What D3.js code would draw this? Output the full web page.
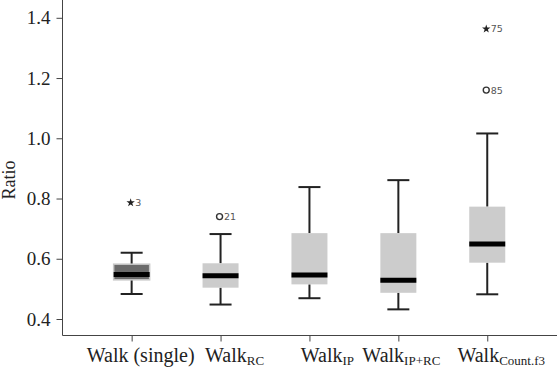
<!DOCTYPE html>
<html>
<head>
<meta charset="utf-8">
<script src="https://cdn.jsdelivr.net/npm/d3@7"></script>
<style>
  body { margin: 0; background: #fff; }
  svg { display: block; }
  .serif, .serif text { font-family: 'Liberation Serif', 'Times New Roman', 'DejaVu Serif', serif; }
  .sans { font-family: 'DejaVu Sans', sans-serif; }
</style>
</head>
<body>
<svg id="chart"></svg>
<script>
// groups and their labels (main text + subscript)
let categories = ['single', 'RC', 'IP', 'IP+RC', 'Count.f3']
let labelMain = ['Walk (single)', 'Walk', 'Walk', 'Walk', 'Walk']
let labelSub = ['', 'RC', 'IP', 'IP+RC', 'Count.f3']

// box statistics
let whiskerLow = [0.483, 0.448, 0.469, 0.432, 0.482]
let q1 = [0.530, 0.504, 0.515, 0.487, 0.587]
let median = [0.548, 0.544, 0.546, 0.529, 0.649]
let q3 = [0.582, 0.585, 0.685, 0.685, 0.773]
let whiskerHigh = [0.620, 0.682, 0.838, 0.861, 1.016]

// outliers: group, value, case number, marker type
let outlierCat = ['single', 'RC', 'Count.f3', 'Count.f3']
let outlierValue = [0.786, 0.740, 1.160, 1.363]
let outlierId = ['3', '21', '85', '75']
let outlierType = ['star', 'circle', 'circle', 'star']

let yTicks = [0.4, 0.6, 0.8, 1.0, 1.2, 1.4]

let width = 558
let height = 369

let $svg = d3.select('#chart')
    .attr('width', width)
    .attr('height', height)

let x = d3.scalePoint()
    .domain(categories)
    .range([87.2, 531.7])
    .padding(0.5)

let y = d3.scaleLinear()
    .domain([0.4, 1.4])
    .range([319, 17.8])

let axisX = 62.5
let axisY = 335.5

// y axis
let $yAxis = $svg.append('g')
    .attr('class', 'serif')
    .attr('transform', 'translate(' + axisX + ',0)')
    .call(d3.axisLeft(y).tickValues(yTicks).tickFormat(d3.format('.1f')).tickSize(6).tickSizeOuter(0).tickPadding(6))
$yAxis.attr('font-family', null)
$yAxis.select('.domain').remove()
$yAxis.selectAll('line').attr('stroke', '#444')
$yAxis.selectAll('text')
    .attr('font-size', 19)
    .attr('fill', '#222')
$svg.append('line')
    .attr('x1', axisX).attr('x2', axisX)
    .attr('y1', 0).attr('y2', axisY)
    .attr('stroke', '#444')

// x axis
let $xAxis = $svg.append('g')
    .attr('transform', 'translate(0,' + axisY + ')')
    .call(d3.axisBottom(x).tickSize(6).tickSizeOuter(0).tickFormat(''))
$xAxis.select('.domain').remove()
$xAxis.selectAll('line').attr('stroke', '#444')
$svg.append('line')
    .attr('x1', axisX).attr('x2', 557)
    .attr('y1', axisY).attr('y2', axisY)
    .attr('stroke', '#444')

// category labels, nudged like the original
let labelShift = [9, 14, 18, 3, 14]
categories.forEach((c, i) => {
    let $t = $svg.append('text')
        .attr('class', 'serif')
        .attr('x', x(c) + labelShift[i])
        .attr('y', 362)
        .attr('text-anchor', 'middle')
        .attr('font-size', 20)
        .attr('fill', '#222')
    $t.append('tspan').text(labelMain[i])
    if (labelSub[i]) {
        $t.append('tspan')
            .attr('font-size', 13)
            .attr('dy', 3)
            .text(labelSub[i])
    }
})

// y label
$svg.append('text')
    .attr('class', 'serif')
    .attr('transform', 'translate(15,180) rotate(-90)')
    .attr('text-anchor', 'middle')
    .attr('font-size', 18)
    .attr('fill', '#222')
    .text('Ratio')

// boxes
let boxW = 36
let capW = 22
let $boxes = $svg.append('g').attr('class', 'boxes')
categories.forEach((c, i) => {
    let cx = x(c)
    let $g = $boxes.append('g')
    // whiskers
    $g.append('line')
        .attr('x1', cx).attr('x2', cx)
        .attr('y1', y(whiskerHigh[i])).attr('y2', y(q3[i]))
        .attr('stroke', '#222').attr('stroke-width', 2)
    $g.append('line')
        .attr('x1', cx).attr('x2', cx)
        .attr('y1', y(q1[i])).attr('y2', y(whiskerLow[i]))
        .attr('stroke', '#222').attr('stroke-width', 2)
    ;[whiskerHigh[i], whiskerLow[i]].forEach(v => {
        $g.append('line')
            .attr('x1', cx - capW / 2).attr('x2', cx + capW / 2)
            .attr('y1', y(v)).attr('y2', y(v))
            .attr('stroke', '#222').attr('stroke-width', 2)
    })
    // box
    let dark = i == 0
    $g.append('rect')
        .attr('x', cx - boxW / 2)
        .attr('y', y(q3[i]))
        .attr('width', boxW)
        .attr('height', y(q1[i]) - y(q3[i]))
        .attr('fill', dark ? '#6b6b6b' : '#cccccc')
        .attr('stroke', dark ? '#c8c8c8' : 'none')
        .attr('stroke-width', 1.5)
    // median
    $g.append('line')
        .attr('x1', cx - boxW / 2).attr('x2', cx + boxW / 2)
        .attr('y1', y(median[i])).attr('y2', y(median[i]))
        .attr('stroke', '#000').attr('stroke-width', 5)
})

// outliers
let star = d3.symbol().type(d3.symbolStar).size(22)
outlierValue.forEach((v, i) => {
    let cx = x(outlierCat[i]) - 1
    let cy = y(v)
    if (outlierType[i] == 'star') {
        $svg.append('path')
            .attr('d', star())
            .attr('transform', 'translate(' + cx + ',' + cy + ')')
            .attr('fill', '#222')
    } else {
        $svg.append('circle')
            .attr('cx', cx).attr('cy', cy).attr('r', 3)
            .attr('fill', '#fff')
            .attr('stroke', '#333').attr('stroke-width', 1.4)
    }
    $svg.append('text')
        .attr('class', 'sans')
        .attr('x', cx + 4.5)
        .attr('y', cy + 3.5)
        .attr('font-size', 9.5)
        .attr('fill', '#555')
        .text(outlierId[i])
})
</script>
</body>
</html>
